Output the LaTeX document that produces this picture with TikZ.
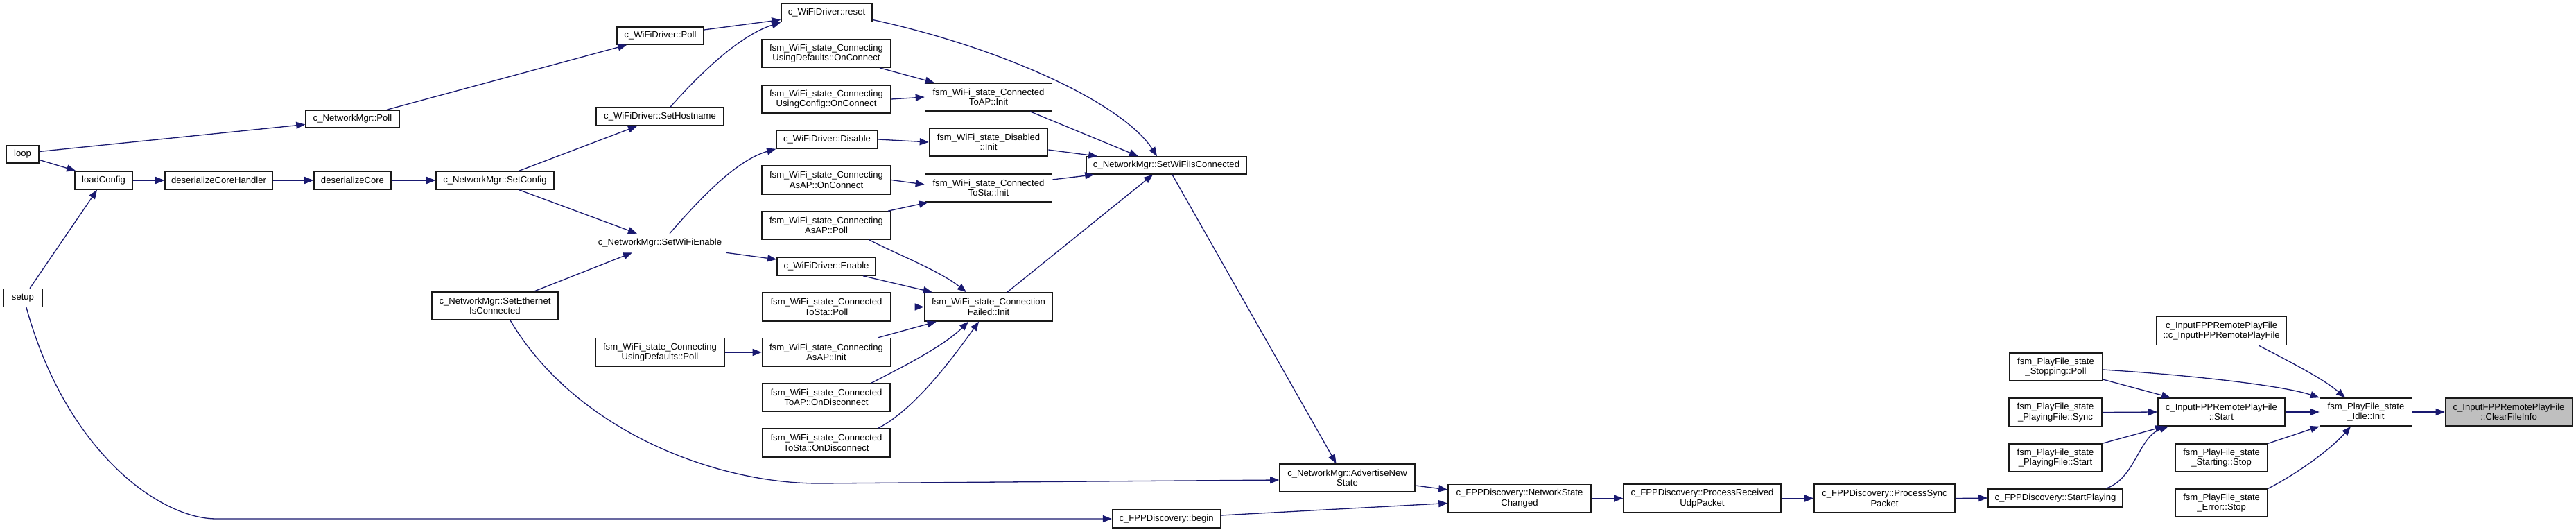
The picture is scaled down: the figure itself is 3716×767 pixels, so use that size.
\documentclass[tikz,border=0pt]{standalone}
\usepackage{fontspec}
\setmainfont{Liberation Sans}
\usetikzlibrary{arrows.meta,calc}
\definecolor{edgeblue}{HTML}{191970}
\definecolor{hlgray}{HTML}{BFBFBF}
\begin{document}
\begin{tikzpicture}[x=1pt,y=-1pt,
  box/.style n args={2}{draw=black!90, line width=1.6pt, fill=white, inner sep=0pt, align=center,
    font=\fontsize{13.1}{14.5}\selectfont, minimum width=#1pt, minimum height=#2pt},
  edge/.style={draw=edgeblue, line width=1.3pt, -{Triangle[length=13pt,width=10pt]}},
]
\fill[white] (0,0) rectangle (3716,767);
\useasboundingbox (0,0) rectangle (3716,767);

% left part
\node[box={47}{25}] (loop) at (32.5,222.5) {loop};
\node[box={56}{26}] (setup) at (33,429.5) {setup};
\node[box={83}{26}] (loadConfig) at (149.5,260) {loadConfig};
\node[box={155}{26}] (dch) at (315.5,260) {deserializeCoreHandler};
\node[box={111}{26}] (dc) at (508.5,260) {deserializeCore};
\node[box={135}{25}] (nmPoll) at (508.5,171.5) {c\_NetworkMgr::Poll};
\node[box={170}{26}] (setConfig) at (714,260) {c\_NetworkMgr::SetConfig};
\node[box={182}{40}] (setEth) at (714,441) {c\_NetworkMgr::SetEthernet\\IsConnected};
\node[box={125}{25}] (wdPoll) at (952.5,51.5) {c\_WiFiDriver::Poll};
\node[box={184}{26}] (setHost) at (952,168) {c\_WiFiDriver::SetHostname};
\node[box={199}{26}] (setWiFiEn) at (952,350.5) {c\_NetworkMgr::SetWiFiEnable};
\node[box={186}{41}] (udPoll) at (952,508) {fsm\_WiFi\_state\_Connecting\\UsingDefaults::Poll};

% column of wifi states
\node[box={131}{26}] (reset) at (1192.5,18.5) {c\_WiFiDriver::reset};
\node[box={186}{40}] (udOnConn) at (1192,77) {fsm\_WiFi\_state\_Connecting\\UsingDefaults::OnConnect};
\node[box={186}{40}] (ucOnConn) at (1192,143) {fsm\_WiFi\_state\_Connecting\\UsingConfig::OnConnect};
\node[box={146}{26}] (disable) at (1193,201) {c\_WiFiDriver::Disable};
\node[box={186}{41}] (apOnConn) at (1192,259.5) {fsm\_WiFi\_state\_Connecting\\AsAP::OnConnect};
\node[box={186}{40}] (apPoll) at (1192,325) {fsm\_WiFi\_state\_Connecting\\AsAP::Poll};
\node[box={142}{26}] (enable) at (1192,384) {c\_WiFiDriver::Enable};
\node[box={185}{41}] (staPoll) at (1192,442.5) {fsm\_WiFi\_state\_Connected\\ToSta::Poll};
\node[box={185}{41}] (apInit) at (1192,508) {fsm\_WiFi\_state\_Connecting\\AsAP::Init};
\node[box={184}{40}] (apOnDis) at (1192,573) {fsm\_WiFi\_state\_Connected\\ToAP::OnDisconnect};
\node[box={184}{41}] (staOnDis) at (1192,638.5) {fsm\_WiFi\_state\_Connected\\ToSta::OnDisconnect};

\node[box={183}{40}] (toAPInit) at (1426,140) {fsm\_WiFi\_state\_Connected\\ToAP::Init};
\node[box={171}{40}] (disInit) at (1426,205) {fsm\_WiFi\_state\_Disabled\\::Init};
\node[box={183}{40}] (toStaInit) at (1426,271) {fsm\_WiFi\_state\_Connected\\ToSta::Init};
\node[box={185}{41}] (failInit) at (1426,442.5) {fsm\_WiFi\_state\_Connection\\Failed::Init};

\node[box={231}{25}] (setWiFiConn) at (1682.5,238.5) {c\_NetworkMgr::SetWiFiIsConnected};
\node[box={195}{40}] (advertise) at (1943.5,689) {c\_NetworkMgr::AdvertiseNew\\State};
\node[box={156}{26}] (begin) at (1682.6,748) {c\_FPPDiscovery::begin};
\node[box={206}{40}] (netChanged) at (2192,718.5) {c\_FPPDiscovery::NetworkState\\Changed};
\node[box={227}{41}] (udp) at (2455.5,718.5) {c\_FPPDiscovery::ProcessReceived\\UdpPacket};
\node[box={203}{41}] (syncP) at (2718.5,718.5) {c\_FPPDiscovery::ProcessSync\\Packet};
\node[box={194}{26}] (startPlaying) at (2965,718) {c\_FPPDiscovery::StartPlaying};

% right part
\node[box={134}{40}] (stopPoll) at (2965.5,529) {fsm\_PlayFile\_state\\\_Stopping::Poll};
\node[box={134}{41}] (pfSync) at (2965,594.5) {fsm\_PlayFile\_state\\\_PlayingFile::Sync};
\node[box={134}{40}] (pfStart) at (2965,660) {fsm\_PlayFile\_state\\\_PlayingFile::Start};
\node[box={188}{41}] (ctor) at (3204.6,477) {c\_InputFPPRemotePlayFile\\::c\_InputFPPRemotePlayFile};
\node[box={183}{40}] (start) at (3204.4,594) {c\_InputFPPRemotePlayFile\\::Start};
\node[box={133}{40}] (startingStop) at (3204.6,660) {fsm\_PlayFile\_state\\\_Starting::Stop};
\node[box={133}{40}] (errStop) at (3204.6,725) {fsm\_PlayFile\_state\\\_Error::Stop};
\node[box={133}{40}] (idle) at (3413,594) {fsm\_PlayFile\_state\\\_Idle::Init};
\node[box={183}{40}, fill=hlgray] (clear) at (3619,594) {c\_InputFPPRemotePlayFile\\::ClearFileInfo};

% edges
\draw[edge] ($(loop.east)+(0,-4)$) -- ($(nmPoll.west)+(0,8)$);
\draw[edge] ($(loop.east)+(0,8)$) -- ($(loadConfig.north west)+(2,0)$);
\draw[edge] ($(setup.north)+(10,0)$) -- ($(loadConfig.south)+(-9.5,0)$);
\draw[edge] ($(setup.south)+(5,0)$) .. controls (95,650) and (230,748) .. (312,748) -- (begin.west);
\draw[edge] (loadConfig.east) -- (dch.west);
\draw[edge] (dch.east) -- (dc.west);
\draw[edge] (dc.east) -- (setConfig.west);
\draw[edge] ($(nmPoll.north)+(49.5,0)$) -- ($(wdPoll.south west)+(15,0)$);
\draw[edge] ($(setConfig.north)+(35,0)$) -- ($(setHost.south)+(-33,0)$);
\draw[edge] ($(setConfig.south)+(35,0)$) -- ($(setWiFiEn.north)+(-33,0)$);
\draw[edge] ($(setEth.north)+(56,0)$) -- ($(setWiFiEn.south)+(-40,0)$);
\draw[edge] ($(setEth.south)+(22,0)$) .. controls (830,620) and (1030,697) .. (1182,697) -- ($(advertise.west)+(0,3)$);
\draw[edge] ($(wdPoll.east)+(0,-8.5)$) -- ($(reset.west)+(0,10)$);
\draw[edge] ($(setHost.north)+(15,0)$) .. controls (1015,100) and (1070,50) .. (reset.south west);
\draw[edge] ($(setWiFiEn.north)+(14,0)$) .. controls (1015,280) and (1065,230) .. (disable.south west);
\draw[edge] ($(setWiFiEn.south east)+(-5,0)$) -- ($(enable.west)+(0,-10)$);
\draw[edge] ($(reset.east)+(0,10)$) .. controls (1450,70) and (1620,150) .. ($(setWiFiConn.north)+(-13.5,0)$);
\draw[edge] ($(udOnConn.south)+(77,0)$) -- ($(toAPInit.north west)+(14,0)$);
\draw[edge] (ucOnConn.east) -- (toAPInit.west);
\draw[edge] (disable.east) -- (disInit.west);
\draw[edge] (apOnConn.east) -- ($(toStaInit.west)+(0,-5)$);
\draw[edge] ($(apPoll.north)+(89,0)$) -- ($(toStaInit.south west)+(5,0)$);
\draw[edge] ($(apPoll.south)+(62,0)$) .. controls (1290,365) and (1355,390) .. ($(failInit.north)+(-32,0)$);
\draw[edge] ($(enable.south)+(53,0)$) -- ($(failInit.north west)+(12,0)$);
\draw[edge] (staPoll.east) -- (failInit.west);
\draw[edge] (udPoll.east) -- (apInit.west);
\draw[edge] ($(apInit.north)+(75,0)$) -- ($(failInit.south west)+(18,0)$);
\draw[edge] ($(apOnDis.north)+(65,0)$) .. controls (1300,530) and (1360,500) .. ($(failInit.south)+(-29,0)$);
\draw[edge] ($(staOnDis.north)+(75,0)$) .. controls (1320,590) and (1375,515) .. ($(failInit.south)+(-14,0)$);
\draw[edge] ($(toAPInit.south)+(60,0)$) -- ($(setWiFiConn.north)+(-40.5,0)$);
\draw[edge] ($(disInit.east)+(0,11)$) -- ($(setWiFiConn.north west)+(17,0)$);
\draw[edge] ($(toStaInit.east)+(0,-12)$) -- ($(setWiFiConn.south west)+(12,0)$);
\draw[edge] ($(failInit.north)+(27,0)$) -- ($(setWiFiConn.south)+(-19.5,0)$);
\draw[edge] ($(setWiFiConn.south)+(8.5,0)$) -- ($(advertise.north)+(-16,0)$);
\draw[edge] ($(advertise.east)+(0,11)$) -- ($(netChanged.west)+(0,-12.5)$);
\draw[edge] ($(begin.east)+(0,-5)$) -- ($(netChanged.west)+(0,7)$);
\draw[edge] (netChanged.east) -- (udp.west);
\draw[edge] (udp.east) -- (syncP.west);
\draw[edge] (syncP.east) -- (startPlaying.west);
\draw[edge] ($(startPlaying.north)+(73,0)$) .. controls (3080,690) and (3085,630) .. ($(start.south west)+(16,0)$);
\draw[edge] ($(stopPoll.east)+(0,18)$) -- ($(start.north west)+(19,0)$);
\draw[edge] ($(stopPoll.east)+(0,4)$) .. controls (3150,540) and (3290,555) .. (idle.north west);
\draw[edge] (pfSync.east) -- (start.west);
\draw[edge] (pfStart.north east) -- ($(start.south west)+(10,0)$);
\draw[edge] ($(ctor.south)+(54,0)$) .. controls (3300,520) and (3350,545) .. ($(idle.north)+(-30,0)$);
\draw[edge] (start.east) -- (idle.west);
\draw[edge] (startingStop.north east) -- (idle.south west);
\draw[edge] (errStop.north east) .. controls (3310,685) and (3360,650) .. ($(idle.south)+(-22,0)$);
\draw[edge] (idle.east) -- (clear.west);
\end{tikzpicture}
\end{document}
